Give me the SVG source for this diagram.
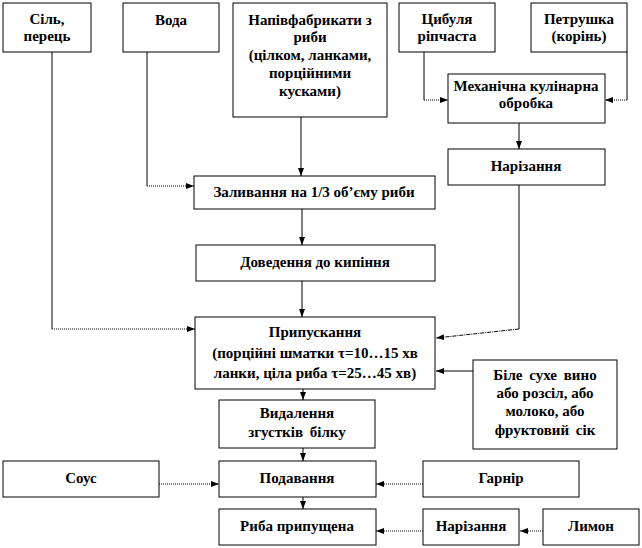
<svg xmlns="http://www.w3.org/2000/svg" width="642" height="548" viewBox="0 0 642 548">
<style>
.box{fill:#fff;stroke:#000;stroke-width:1}
text{font-family:'Liberation Serif','Times New Roman','DejaVu Serif',serif;font-weight:bold;font-size:15px;text-anchor:middle;fill:#000}
.ws{word-spacing:3px}
.c{fill:none;stroke:#000;stroke-width:1}
.d{stroke-dasharray:1,1}
</style>
<defs>
<marker id="a" viewBox="0 0 8 8" refX="8" refY="4" markerWidth="8" markerHeight="8" markerUnits="userSpaceOnUse" orient="auto">
<path d="M0,1 L8,4 L0,7 Z" fill="#000"/>
</marker>
</defs>
<rect width="642" height="548" fill="#fff"/>
<g id="connectors">
<path class="c" d="M52,52 V329"/>
<path class="c d" d="M52,329 H195" marker-end="url(#a)"/>
<path class="c" d="M147,52 V186"/>
<path class="c d" d="M147,186 H194" marker-end="url(#a)"/>
<path class="c" d="M301,117 V176" marker-end="url(#a)"/>
<path class="c" d="M424,52 V100"/>
<path class="c d" d="M424,100 H448" marker-end="url(#a)"/>
<path class="c" d="M627,52 V100"/>
<path class="c d" d="M627,100 H605" marker-end="url(#a)"/>
<path class="c" d="M519,123 V149" marker-end="url(#a)"/>
<path class="c" d="M519,185 V329"/>
<path class="c" stroke-dasharray="4,1,1,1" d="M519,329 L436,338" marker-end="url(#a)"/>
<path class="c" d="M302,209 V245" marker-end="url(#a)"/>
<path class="c" d="M302,281 V317" marker-end="url(#a)"/>
<path class="c" d="M473,371 H436" marker-end="url(#a)"/>
<path class="c" d="M303,389 V400" marker-end="url(#a)"/>
<path class="c" d="M303,448 V461" marker-end="url(#a)"/>
<path class="c" d="M303,497 V509" marker-end="url(#a)"/>
<path class="c d" d="M159,484 H219" marker-end="url(#a)"/>
<path class="c d" d="M423,484 H376" marker-end="url(#a)"/>
<path class="c d" d="M423,531 H376" marker-end="url(#a)"/>
<path class="c d" d="M543,531 H520" marker-end="url(#a)"/>
</g>
<g id="sil"><rect class="box" x="3" y="3" width="88" height="49"/><text x="47" y="24">Сіль,</text><text x="47" y="41">перець</text></g>
<g id="voda"><rect class="box" x="123" y="3" width="96" height="49"/><text x="171" y="25">Вода</text></g>
<g id="napiv"><rect class="box" x="233" y="3" width="154" height="114"/><text x="310" y="25">Напівфабрикати з</text><text x="310" y="42">риби</text><text x="310" y="60">(цілком, ланками,</text><text x="310" y="78">порційними</text><text x="310" y="96">кусками)</text></g>
<g id="tsybulia"><rect class="box" x="399" y="3" width="96" height="49"/><text x="447" y="24">Цибуля</text><text x="447" y="41">ріпчаста</text></g>
<g id="petrushka"><rect class="box" x="531" y="3" width="96" height="49"/><text x="579" y="24">Петрушка</text><text x="579" y="41">(корінь)</text></g>
<g id="mekh"><rect class="box" x="448" y="74" width="157" height="49"/><text x="526" y="91">Механічна кулінарна</text><text x="526" y="108">обробка</text></g>
<g id="narizannia1"><rect class="box" x="448" y="149" width="157" height="36"/><text x="526" y="171">Нарізання</text></g>
<g id="zalyvannia"><rect class="box" x="194" y="176" width="241" height="33"/><text x="314" y="197">Заливання на 1/3 об’єму риби</text></g>
<g id="dovedennia"><rect class="box" x="196" y="245" width="239" height="36"/><text x="315" y="267">Доведення до кипіння</text></g>
<g id="prypuskannia"><rect class="box" x="195" y="317" width="240" height="72"/><text x="315" y="337">Припускання</text><text x="315" y="358">(порційні шматки τ=10…15 хв</text><text x="315" y="378">ланки, ціла риба τ=25…45 хв)</text></g>
<g id="vyno"><rect class="box" x="473" y="360" width="144" height="89"/><text class="ws" x="545" y="380">Біле сухе вино</text><text x="545" y="398">або розсіл, або</text><text x="545" y="416">молоко, або</text><text class="ws" x="545" y="435">фруктовий сік</text></g>
<g id="vydalennia"><rect class="box" x="219" y="400" width="156" height="48"/><text x="297" y="418">Видалення</text><text class="ws" x="297" y="437">згустків білку</text></g>
<g id="sous"><rect class="box" x="3" y="461" width="156" height="36"/><text x="81" y="483">Соус</text></g>
<g id="podavannia"><rect class="box" x="219" y="461" width="157" height="36"/><text x="297" y="483">Подавання</text></g>
<g id="garnir"><rect class="box" x="423" y="461" width="156" height="36"/><text x="501" y="483">Гарнір</text></g>
<g id="ryba"><rect class="box" x="219" y="509" width="157" height="36"/><text x="297" y="531">Риба припущена</text></g>
<g id="narizannia2"><rect class="box" x="423" y="509" width="96" height="36"/><text x="471" y="531">Нарізання</text></g>
<g id="lymon"><rect class="box" x="543" y="509" width="96" height="36"/><text x="591" y="531">Лимон</text></g>
</svg>
